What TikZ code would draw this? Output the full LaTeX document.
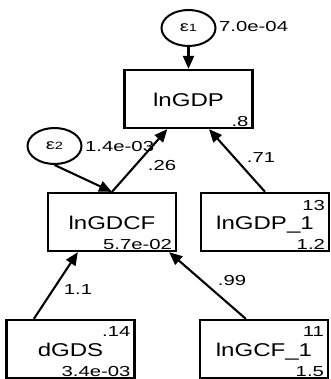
\documentclass[tikz,border=0pt]{standalone}
\usepackage{fontspec}
\setmainfont{Liberation Sans}[FakeStretch=1.3]
\newfontfamily\numfont{Liberation Sans}[FakeStretch=1.4]
\usetikzlibrary{arrows.meta,calc,shapes.geometric}
\begin{document}
\begin{tikzpicture}[x=1pt,y=-1pt,
  vbox/.style={draw,line width=2.3pt,minimum width=128pt,minimum height=58pt,inner sep=0pt,
    text height=15pt,text depth=0pt,font=\fontsize{18.5}{18.5}\selectfont},
  err/.style={ellipse,draw,line width=2pt,minimum width=54pt,minimum height=36pt,inner sep=0pt},
  numlbl/.style={inner sep=0pt,font=\numfont\fontsize{14.5}{14.5}\selectfont},
  conn/.style={line width=2.1pt,-{Triangle[length=13pt,width=11pt]}}]
\useasboundingbox (0,0) rectangle (330,379);
\fill[white] (0,0) rectangle (330,379);
% variable boxes
\node[vbox] (b1) at (188.5,99) {lnGDP};
\node[vbox] (b2) at (112,222) {lnGDCF};
\node[vbox] (b3) at (265,222) {lnGDP\_1};
\node[vbox] (b4) at (70.5,349) {dGDS};
\node[vbox] (b5) at (264,349) {lnGCF\_1};
% error terms
\node[err] (e1) at (188.5,28) {\raisebox{-3.5pt}{\numfont\fontsize{14.5}{14.5}\selectfont ε\fontsize{10.5}{10.5}\selectfont 1}};
\node[err] (e2) at (54.5,146) {\raisebox{-3.5pt}{\numfont\fontsize{14.5}{14.5}\selectfont ε\fontsize{10.5}{10.5}\selectfont 2}};
\node[numlbl,anchor=west] (v1) at (219,27) {7.0e-04};
\node[numlbl,anchor=west] (v2) at (85,147) {1.4e-03};
% numbers inside boxes
\node[numlbl,anchor=base east] (n1) at ($(b1.south east)+(-5,-3)$) {.8};
\node[numlbl,anchor=base east] (n2) at ($(b2.south east)+(-5,-3)$) {5.7e-02};
\node[numlbl,anchor=base east] (n3a) at ($(b3.north east)+(-5,19)$) {13};
\node[numlbl,anchor=base east] (n3b) at ($(b3.south east)+(-5,-3)$) {1.2};
\node[numlbl,anchor=base east] (n4a) at ($(b4.north east)+(-5,18)$) {.14};
\node[numlbl,anchor=base east] (n4b) at ($(b4.south east)+(-5,-3)$) {3.4e-03};
\node[numlbl,anchor=base east] (n5a) at ($(b5.north east)+(-5,18)$) {11};
\node[numlbl,anchor=base east] (n5b) at ($(b5.south east)+(-5,-3)$) {1.5};
% paths
\draw[conn] (e1) -- (b1);
\draw[conn] (e2.south) -- (b2.north);
\draw[conn] (b2.north) -- ($(b1.south west)+(44,0)$);
\draw[conn] (b3.north) -- ($(b1.south)+(20.5,0)$);
\draw[conn] ($(b4.north west)+(28.5,0)$) -- ($(b2.south west)+(31,0)$);
\draw[conn] ($(b5.north west)+(47,0)$) -- ($(b2.south east)+(-8,0)$);
% path coefficients
\node[numlbl] (c1) at (162,166) {.26};
\node[numlbl] (c2) at (261,158) {.71};
\node[numlbl] (c3) at (78,290) {1.1};
\node[numlbl] (c4) at (232,281) {.99};
\end{tikzpicture}
\end{document}
